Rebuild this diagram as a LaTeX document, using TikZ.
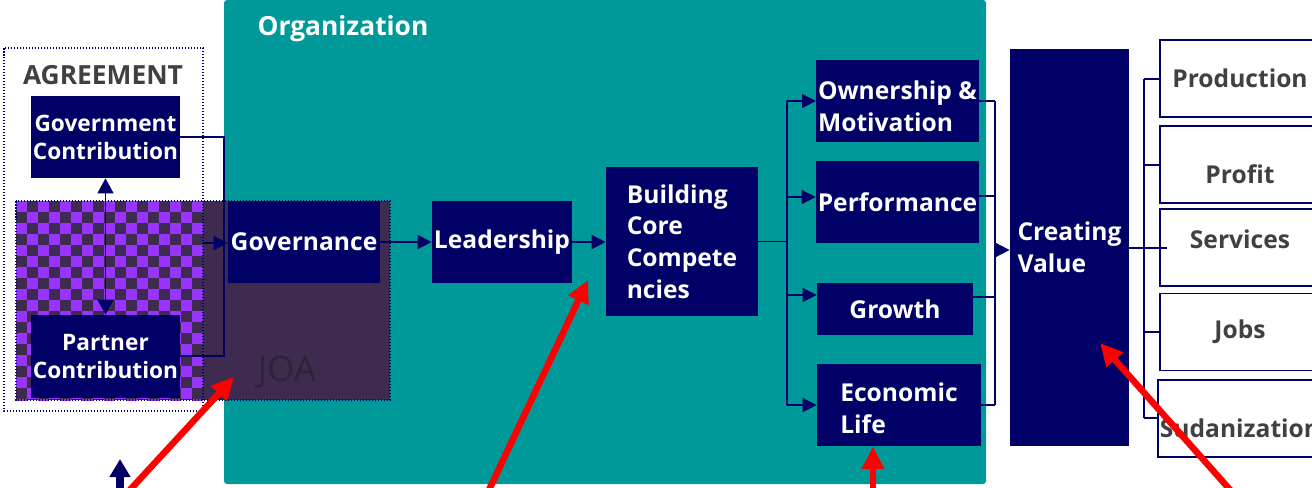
\documentclass[tikz,border=0pt]{standalone}
\usepackage{fontspec}
\setmainfont{Open Sans}
\usetikzlibrary{arrows.meta, positioning}
\definecolor{navy}{RGB}{0,0,102}
\definecolor{orgteal}{RGB}{0,153,153}
\definecolor{joapurple}{RGB}{63,42,80}
\definecolor{checkpurple}{RGB}{153,51,255}
\definecolor{textgray}{RGB}{64,64,64}
\definecolor{joatext}{RGB}{46,36,56}
\definecolor{arrowred}{RGB}{255,0,0}
\newcommand\boxfont{\fontsize{14}{18}\selectfont\bfseries}
\newcommand\pairfont{\fontsize{12.9}{16}\selectfont\bfseries}
\newcommand\titlefont{\fontsize{15}{18}\selectfont\bfseries}
\newcommand\shifted[2]{\raisebox{#1}[\height][\depth]{#2}}
\tikzset{
  navybox/.style={rectangle, fill=navy, text=white, font=\boxfont, inner sep=1pt},
  outbox/.style={rectangle, draw=navy, fill=white, line width=0.03cm, text=textgray, font=\boxfont, minimum width=3.2cm, minimum height=1.54cm, inner sep=1pt},
  wire/.style={draw=navy, line width=0.03cm},
  flow/.style={wire, -{Triangle[length=0.28cm, width=0.28cm]}},
  frame/.style={draw=navy, line width=0.03cm, dash pattern=on 0.03cm off 0.03cm},
  pointer/.style={draw=#1, line width=0.13cm, -{Triangle[length=0.45cm, width=0.42cm]}},
}

\begin{document}
\begin{tikzpicture}[x=0.02cm, y=-0.02cm]
\useasboundingbox (0,0) rectangle (1312,487);
% organization
\fill[orgteal, rounded corners=0.06cm] (224,0) rectangle (986,484);
\node[font=\titlefont, text=white] (org) at (343,29) {Organization};
% JOA area with checkered overlap
\fill[joapurple] (16,201) rectangle (390,400);
\begin{scope}
  \clip (16,201) rectangle (203,400);
  \foreach \i in {0,...,16}
    \foreach \j in {0,...,18}
    { \pgfmathparse{int(mod(\i+\j,2))}
      \ifnum\pgfmathresult=0 \fill[checkpurple] (16+11*\i,201+11*\j) rectangle ++(11,11); \fi }
\end{scope}
\draw[frame] (16,201) rectangle (390,400);
\node[font=\fontsize{20}{24}\selectfont, text=joatext] (joa) at (287,372) {JOA};
% agreement
\draw[frame] (4,48) rectangle (203,411);
\node[font=\titlefont, text=textgray] (agree) at (103,75) {AGREEMENT};
\node[navybox, font=\pairfont, align=center, minimum width=2.86cm, minimum height=1.64cm] (gov) at (105.5,137) {Government\\Contribution};
\node[navybox, font=\pairfont, align=center, minimum width=2.86cm, minimum height=1.66cm] (partner) at (105.5,356.5) {Partner\\Contribution};
% main chain
\node[navybox, minimum width=3.04cm, minimum height=1.64cm] (governance) at (304,242) {Governance};
\node[navybox, minimum width=2.8cm, minimum height=1.64cm] (leader) at (502,242) {Leadership};
\node[navybox, align=left, minimum width=3.04cm, minimum height=2.98cm] (core) at (682,241.5) {Building\\Core\\Compete\\ncies};
\node[navybox, align=left, minimum width=3.22cm, minimum height=1.64cm] (owner) at (897.5,101) {\shifted{-3pt}{Ownership \&}\\\shifted{-3pt}{Motivation}};
\node[navybox, minimum width=3.18cm, minimum height=1.64cm] (perf) at (897.5,202) {Performance};
\node[navybox, minimum width=3.12cm, minimum height=1.04cm] (growth) at (895,309) {Growth};
\node[navybox, align=left, minimum width=3.28cm, minimum height=1.64cm] (econ) at (899,405) {\shifted{-2pt}{Economic}\\\shifted{-2pt}{Life}};
\node[navybox, align=left, minimum width=2.38cm, minimum height=7.94cm] (value) at (1069.5,247.5) {Creating\\Value};
% results
\node[outbox] (prod) at (1240,78.5) {Production};
\node[outbox] (profit) at (1240,164.5) {\shifted{-5.7pt}{Profit}};
\node[outbox] (services) at (1240,247.5) {\shifted{4.8pt}{Services}};
\node[outbox] (jobs) at (1240,332) {Jobs};
\node[outbox] (sudan) at (1240,418.5) {\shifted{-5.4pt}{Sudanization}};

% connectors
\draw[wire, {Triangle[length=0.3cm, width=0.32cm]}-{Triangle[length=0.3cm, width=0.32cm]}] (gov.south) -- (partner.north);
\draw[wire] (gov.east) -- (224,137) -- (224,356) -- (partner.east |- 0,356);
\draw[flow] (203,243) -- (governance.west |- 0,243);
\draw[flow] (governance.east) -- (leader.west);
\draw[flow] (leader.east) -- (leader.east -| core.west);
\draw[wire] (core.east) -- (787,241.5);
\draw[wire] (787,101) -- (787,405);
\foreach \n/\y in {owner/101, perf/197, growth/295, econ/405}
  \draw[flow] (787,\y) -- (\n.west |- 0,\y);
\foreach \n/\y in {owner/101, perf/196, growth/297, econ/405}
  \draw[wire] (\n.east |- 0,\y) -- (995,\y);
\draw[wire] (995,101) -- (995,405);
\draw[flow] (995,250) -- (value.west |- 0,250);
\draw[wire] (value.east |- 0,248) -- (1167,248);
\draw[wire] (1144,79) -- (1144,418);
\foreach \n/\y in {prod/79, profit/165, jobs/332, sudan/418}
  \draw[wire] (1144,\y) -- (\n.west |- 0,\y);

% pointers from below
\coordinate (navyfoot) at (120,492);
\coordinate (navytip) at (120,459);
\draw[navy, line width=0.16cm, -{Triangle[length=0.36cm, width=0.4cm]}] (navyfoot) -- (navytip);
\coordinate (foot1) at (128,492);
\coordinate (tip1) at (234,377);
\coordinate (foot2) at (488,492);
\coordinate (tip2) at (588,280);
\coordinate (foot3) at (873,492);
\coordinate (foot4) at (1232,492);
\coordinate (tip4) at (1100,343);
\draw[pointer=arrowred] (foot1) -- (tip1);
\draw[pointer=arrowred] (foot2) -- (tip2);
\draw[pointer=arrowred] (foot3) -- (foot3 |- econ.south);
\draw[pointer=arrowred] (foot4) -- (tip4);
\end{tikzpicture}
\end{document}
